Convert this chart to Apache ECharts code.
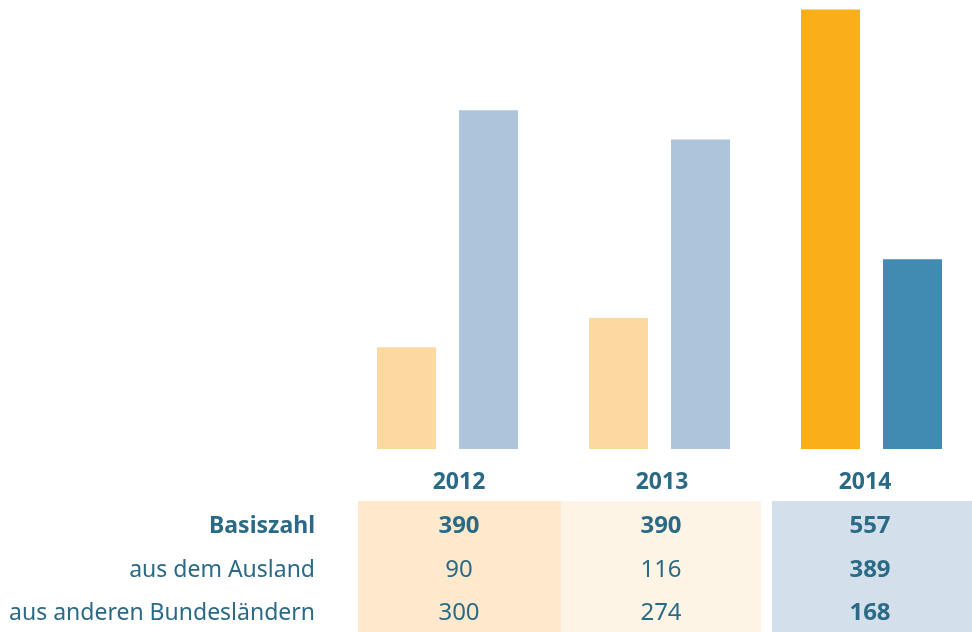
<!DOCTYPE html>
<html>
<head>
<meta charset="utf-8">
<script src="https://cdn.jsdelivr.net/npm/echarts@6/dist/echarts.min.js"></script>
<style>
html,body{margin:0;padding:0;background:#fff;overflow:hidden;}
#main{width:978px;height:632px;}
</style>
</head>
<body>
<div id="main"></div>
<script>
// Daten
var years = ['2012', '2013', '2014'];
var basiszahl = [390, 390, 557];
var ausland = [90, 116, 389];
var bundeslaender = [300, 274, 168];
var rowLabels = ['Basiszahl', 'aus dem Ausland', 'aus anderen Bundesländern'];

var textColor = '#2b6a86';
var fontName = '"Noto Sans", sans-serif';

// letzte Kategorie hervorheben
function colored(data, light, strong) {
	return data.map(function (v, i) {
		return { value: v, itemStyle: { color: i == data.length - 1 ? strong : light } };
	});
}

// Tabelle unter dem Diagramm
var colX = [358, 561, 772];
var colW = [203, 200, 206];
var colBg = ['#fee9cc', '#fef4e6', '#d3dfea'];
var colCenter = [459, 661, 870];
var yearCenter = [459, 662, 865];
var rowY = [526, 570, 613];
var rows = [basiszahl, ausland, bundeslaender];

var graphics = [];
for (var c = 0; c < years.length; c++) {
	graphics.push({
		type: 'rect', z: -1,
		shape: { x: colX[c], y: 501, width: colW[c], height: 131 },
		style: { fill: colBg[c] }
	});
	graphics.push({
		type: 'text',
		style: {
			text: years[c], x: yearCenter[c], y: 482, align: 'center', verticalAlign: 'middle',
			font: 'bold 23px ' + fontName, fill: textColor
		}
	});
	for (var r = 0; r < rows.length; r++) {
		var bold = r == 0 || c == years.length - 1;
		graphics.push({
			type: 'text',
			style: {
				text: String(rows[r][c]), x: colCenter[c], y: rowY[r], align: 'center', verticalAlign: 'middle',
				font: (bold ? 'bold ' : '') + '24px ' + fontName, fill: textColor
			}
		});
	}
}
for (var r = 0; r < rowLabels.length; r++) {
	graphics.push({
		type: 'text',
		style: {
			text: rowLabels[r], x: 315, y: rowY[r], align: 'right', verticalAlign: 'middle',
			font: (r == 0 ? 'bold ' : '') + '23px ' + fontName, fill: textColor
		}
	});
}

var chart = echarts.init(document.getElementById('main'));
var option = {
	animation: false,
	grid: { left: 341.5, right: 0.5, top: 0, bottom: 183 },
	xAxis: {
		type: 'category',
		data: years,
		axisLine: { show: false },
		axisTick: { show: false },
		axisLabel: { show: false }
	},
	yAxis: {
		type: 'value',
		min: 0,
		max: 397.5,
		show: false,
		splitLine: { show: false }
	},
	series: [
		{
			name: 'aus dem Ausland',
			type: 'bar',
			barWidth: 59,
			barGap: '39%',
			data: colored(ausland, '#fdd9a2', '#f9ae1a')
		},
		{
			name: 'aus anderen Bundesländern',
			type: 'bar',
			barWidth: 59,
			data: colored(bundeslaender, '#aec4da', '#418ab2')
		}
	],
	graphic: graphics
};
chart.setOption(option);
</script>
</body>
</html>
